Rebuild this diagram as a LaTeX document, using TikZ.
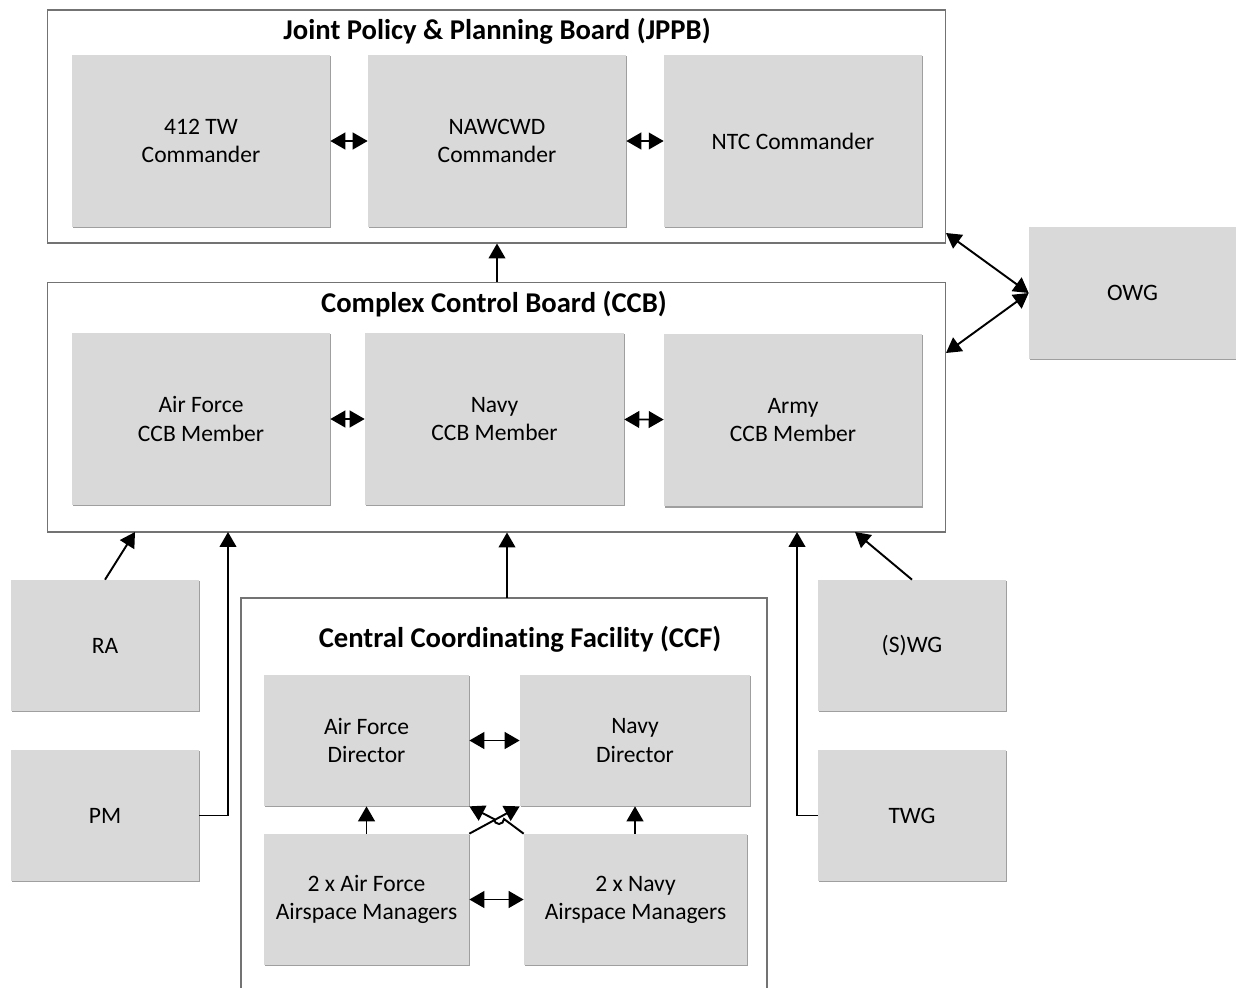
\documentclass[tikz,border=0pt]{standalone}
\usepackage{fontspec}
\setmainfont[Ligatures=NoCommon]{Carlito}
\usetikzlibrary{arrows.meta, positioning, shadows}
\definecolor{boxGray}{gray}{0.85}
\definecolor{edgeGray}{gray}{0.45}

\tikzset{
  member/.style={fill=boxGray, drop shadow={shadow xshift=0.6pt, shadow yshift=-0.6pt, fill=gray!75, opacity=1},
    align=center, inner sep=0pt, font=\fontsize{13.4}{16}\selectfont},
  board/.style={draw=edgeGray, line width=0.6pt, inner sep=0pt},
  title/.style={font=\bfseries\fontsize{16.3}{19}\selectfont},
  link/.style={line width=1.1pt, -{Triangle[length=8.5pt,width=9.5pt]}},
  dlink/.style={line width=1.1pt, {Triangle[length=8.5pt,width=9.5pt]}-{Triangle[length=8.5pt,width=9.5pt]}}
}

\begin{document}
\begin{tikzpicture}[x=0.02cm, y=-0.02cm]
    \useasboundingbox (0,0) rectangle (1236,987);

    % Boards
    \node[board, minimum width=17.98cm, minimum height=4.66cm] (jppb) at (496.5,126.5) {};
    \node[title] (jppbT) at (497,31) {Joint Policy \& Planning Board (JPPB)};
    \node[board, minimum width=17.98cm, minimum height=5.00cm] (ccb) at (496.5,407) {};
    \node[title] (ccbT) at (494,304) {Complex Control Board (CCB)};

    % JPPB members
    \node[member, minimum width=5.16cm, minimum height=3.44cm] (tw) at (201,141) {412 TW\\Commander};
    \node[member, minimum width=5.16cm, minimum height=3.44cm] (nawc) at (497,141) {NAWCWD\\Commander};
    \node[member, minimum width=5.16cm, minimum height=3.44cm] (ntc) at (793,141) {NTC Commander};

    % CCB members
    \node[member, minimum width=5.16cm, minimum height=3.44cm] (af) at (201,419) {Air Force\\CCB Member};
    \node[member, minimum width=5.18cm, minimum height=3.44cm] (navy) at (494.5,419) {Navy\\CCB Member};
    \node[member, minimum width=5.16cm, minimum height=3.46cm] (army) at (793,420) {Army\\CCB Member};

    \draw[dlink] (tw) -- (nawc);
    \draw[dlink] (nawc) -- (ntc);
    \draw[dlink] (af) -- (navy);
    \draw[dlink] (navy) -- (army);
    \draw[link] (ccb.north -| jppbT) -- (jppb.south -| jppbT);

    % OWG
    \node[member, minimum width=4.14cm, minimum height=2.64cm] (owg) at (1132.5,293) {OWG};
    \coordinate (jppbR) at (946,233);
    \coordinate (ccbR) at (946,353);
    \draw[dlink] (jppbR) -- (owg.west);
    \draw[dlink] (ccbR) -- (owg.west);

    % Working groups
    \node[member, minimum width=3.76cm, minimum height=2.62cm] (ra) at (105,645.5) {RA};
    \node[member, minimum width=3.76cm, minimum height=2.62cm] (pm) at (105,815.5) {PM};
    \node[member, minimum width=3.76cm, minimum height=2.62cm] (swg) at (912,645.5) {(S)WG};
    \node[member, minimum width=3.76cm, minimum height=2.62cm] (twg) at (912,815.5) {TWG};

    \draw[link] (ra.north) -- (135,532);
    \draw[link] (pm.east) -| (228,532);
    \draw[link] (swg.north) -- (855,532);
    \draw[link] (twg.west) -| (797,532);

    % CCF
    \draw[edgeGray, line width=0.6pt] (241,990) -- (241,598) -- (767,598) -- (767,990);
    \coordinate (ccfTop) at (507,598);
    \node[title] (ccfT) at (520,639) {Central Coordinating Facility (CCF)};
    \draw[link] (ccfTop) -- (ccfTop |- ccb.south);

    \node[member, minimum width=4.10cm, minimum height=2.62cm] (afd) at (366.5,740.5) {Air Force\\Director};
    \node[member, minimum width=4.60cm, minimum height=2.62cm] (nd) at (635,740.5) {Navy\\Director};
    \node[member, minimum width=4.10cm, minimum height=2.62cm] (afm) at (366.5,899.5) {2 x Air Force\\Airspace Managers};
    \node[member, minimum width=4.46cm, minimum height=2.62cm] (nm) at (635.5,899.5) {2 x Navy\\Airspace Managers};

    \draw[dlink] (afd) -- (nd);
    \draw[dlink] (afm) -- (nm);
    \draw[link] (afm.north -| afd) -- (afd.south);
    \draw[link] (nm.north -| nd) -- (nd.south);
    \draw[link] (afm.north east) -- (nd.south west);
    \draw[link] (nm.north west) -- (504,819) arc[start angle=0, end angle=180, radius=5] -- (afd.south east);
\end{tikzpicture}
\end{document}
